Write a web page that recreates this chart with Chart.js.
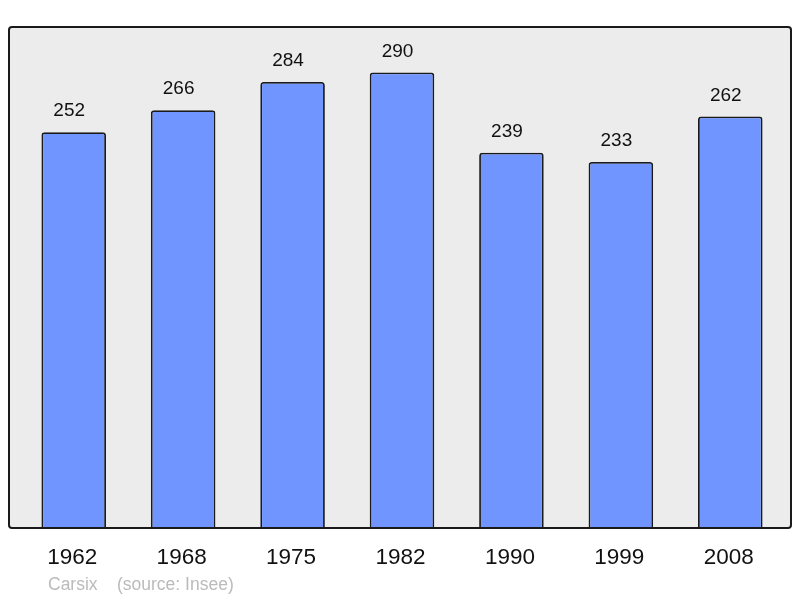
<!DOCTYPE html>
<html>
<head>
<meta charset="utf-8">
<script src="https://cdn.jsdelivr.net/npm/chart.js@4/dist/chart.umd.min.js"></script>
<style>
  html, body { margin: 0; padding: 0; background: #fff; }
  #wrap { width: 800px; height: 598px; }
</style>
</head>
<body>
<div id="wrap"><canvas id="pop"></canvas></div>
<script>
const years = ["1962", "1968", "1975", "1982", "1990", "1999", "2008"];
const population = [252, 266, 284, 290, 239, 233, 262];
const yMax = 319;

// frame, value labels, year labels and credit line
const decor = {
  id: "decor",
  beforeDatasetsDraw(chart) {
    const c = chart.ctx;
    const a = chart.chartArea;
    c.save();
    c.beginPath();
    c.roundRect(9, a.top, 782, a.bottom - a.top, 3);
    c.fillStyle = "#ececec";
    c.fill();
    c.restore();
  },
  afterDatasetsDraw(chart) {
    const c = chart.ctx;
    const a = chart.chartArea;
    const x = chart.scales.x;
    const y = chart.scales.y;
    c.save();
    c.beginPath();
    c.roundRect(9, a.top, 782, a.bottom - a.top, 3);
    c.lineWidth = 2;
    c.strokeStyle = "#1a1a1a";
    c.stroke();

    c.fillStyle = "#111";
    c.textAlign = "center";
    c.textBaseline = "alphabetic";
    c.font = "19px 'Liberation Sans', Arial, sans-serif";
    population.forEach((v, i) => {
      c.fillText(String(v), x.getPixelForValue(i) - 4.5, y.getPixelForValue(v) - 16);
    });
    c.font = "22.5px 'Liberation Sans', Arial, sans-serif";
    years.forEach((yr, i) => {
      c.fillText(yr, x.getPixelForValue(i) - 1.5, a.bottom + 36);
    });
    c.fillStyle = "#bbbbbb";
    c.textAlign = "left";
    c.font = "17.5px 'Liberation Sans', Arial, sans-serif";
    c.fillText("Carsix", 48, 590);
    c.fillText("(source: Insee)", 117, 590);
    c.restore();
  }
};

new Chart(document.getElementById("pop"), {
  type: "bar",
  data: {
    labels: years,
    datasets: [{
      data: population,
      backgroundColor: "#7095ff",
      borderColor: "#1a1a1a",
      borderWidth: 1.8,
      borderSkipped: "bottom",
      borderRadius: { topLeft: 3, topRight: 3 },
      barPercentage: 0.59,
      categoryPercentage: 1
    }]
  },
  options: {
    responsive: true,
    maintainAspectRatio: false,
    animation: false,
    layout: { padding: { left: 19, right: 15, top: 27, bottom: 70 } },
    plugins: { legend: { display: false }, tooltip: { enabled: false } },
    scales: {
      x: { display: false },
      y: { display: false, min: 0, max: yMax }
    }
  },
  plugins: [decor]
});
</script>
</body>
</html>
